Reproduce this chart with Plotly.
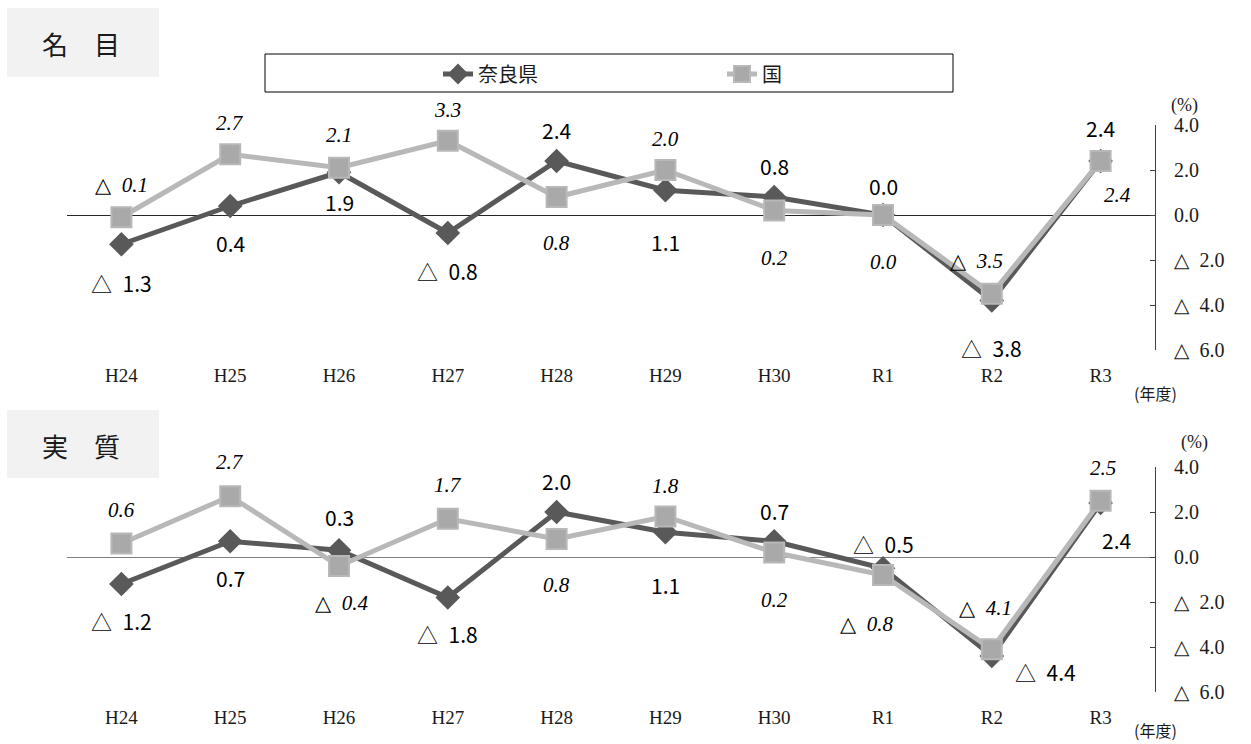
import plotly.graph_objects as go

W, H = 1251, 744

# ---------------- data ----------------
years = ["H24", "H25", "H26", "H27", "H28", "H29", "H30", "R1", "R2", "R3"]
nara_nominal = [-1.3, 0.4, 1.9, -0.8, 2.4, 1.1, 0.8, 0.0, -3.8, 2.4]
kuni_nominal = [-0.1, 2.7, 2.1, 3.3, 0.8, 2.0, 0.2, 0.0, -3.5, 2.4]
nara_real = [-1.2, 0.7, 0.3, -1.8, 2.0, 1.1, 0.7, -0.5, -4.4, 2.4]
kuni_real = [0.6, 2.7, -0.4, 1.7, 0.8, 1.8, 0.2, -0.8, -4.1, 2.5]
series_names = ["奈良県", "国"]
panel_titles = ["名　目", "実　質"]
y_tickvals = [4, 2, 0, -2, -4, -6]
y_ticktext = ["4.0", "2.0", "0.0", "△\u20022.0", "△\u20024.0", "△\u20026.0"]
unit_label = "(%)"
year_label = "(年度)"

# ---------------- label offsets (px; dx right, dy down) ----------------
nara_nom_dx = [0, 0, 0, 0, 0, 0, 0, 0, 0, 0]
nara_nom_dy = [39, 37, 30, 38, -31, 52, -31, -29, 47, -33]
kuni_nom_dx = [0, 0, 0, 0, 0, 0, 0, 0, -15, 17]
kuni_nom_dy = [-32, -31, -33, -31, 46, -31, 47, 47, -33, 34]
nara_real_dx = [0, 0, 0, 0, 0, 0, 0, 0, 54, 16]
nara_real_dy = [37, 37, -33, 36, -31, 53, -30, -24, 16, 37]
kuni_real_dx = [0, 0, 2, 0, 0, 0, 0, -17, -6, 2]
kuni_real_dy = [-34, -34, 37, -34, 46, -31, 47, 49, -41, -33]

NARA_C = "#595959"
KUNI_LINE = "#b8b8b8"
KUNI_MARK = "#a9a9a9"

SANS = "Liberation Sans Narrow, Noto Sans CJK JP, sans-serif"
SERIF = "Liberation Serif, DejaVu Serif, Noto Sans CJK JP, serif"
CJK = "Noto Sans CJK JP, sans-serif"


def px_x(x):
    return x / W


def px_y(y):
    return 1 - y / H


def fmt(v):
    return f"△\u2002{abs(v):.1f}" if v < 0 else f"{v:.1f}"


x_dom = [px_x(67), px_x(1155)]
panels = [
    dict(dom=[px_y(350), px_y(125)], nara=nara_nominal, kuni=kuni_nominal,
         ndx=nara_nom_dx, ndy=nara_nom_dy, kdx=kuni_nom_dx, kdy=kuni_nom_dy,
         box=(7, 8, 159, 77), unit=(1184, 106), yr=(1155, 393), zc="#262626"),
    dict(dom=[px_y(692), px_y(467)], nara=nara_real, kuni=kuni_real,
         ndx=nara_real_dx, ndy=nara_real_dy, kdx=kuni_real_dx, kdy=kuni_real_dy,
         box=(7, 410, 159, 478), unit=(1194, 442), yr=(1155, 730), zc="#7f7f7f"),
]

fig = go.Figure()
annotations = []
shapes = []


def paper_text(x, y, text, font):
    return dict(x=px_x(x), y=px_y(y), xref="paper", yref="paper", text=text,
                showarrow=False, xanchor="center", yanchor="middle", font=font)


for i, p in enumerate(panels):
    sfx = "" if i == 0 else str(i + 1)
    xa, ya = "x" + sfx, "y" + sfx
    fig.add_trace(go.Scatter(
        x=years, y=p["nara"], name=series_names[0], mode="lines+markers",
        line=dict(color=NARA_C, width=5),
        marker=dict(symbol="diamond", size=19, color=NARA_C),
        xaxis=xa, yaxis=ya, showlegend=(i == 0), legendrank=1))
    fig.add_trace(go.Scatter(
        x=years, y=p["kuni"], name=series_names[1], mode="lines+markers",
        line=dict(color=KUNI_LINE, width=5),
        marker=dict(symbol="square", size=20, color=KUNI_MARK,
                    line=dict(color=KUNI_LINE, width=2)),
        xaxis=xa, yaxis=ya, showlegend=(i == 0), legendrank=2))

    for j, yr in enumerate(years):
        annotations.append(dict(
            x=yr, y=p["nara"][j], xref=xa, yref=ya, text=fmt(p["nara"][j]),
            showarrow=False, xanchor="center", yanchor="middle",
            xshift=p["ndx"][j], yshift=-p["ndy"][j],
            font=dict(family=SANS, size=21, color="#000000")))
        annotations.append(dict(
            x=yr, y=p["kuni"][j], xref=xa, yref=ya, text=fmt(p["kuni"][j]),
            showarrow=False, xanchor="center", yanchor="middle",
            xshift=p["kdx"][j], yshift=-p["kdy"][j],
            font=dict(family=SERIF, size=21, color="#000000", style="italic")))

    # title box
    x0, y0, x1, y1 = p["box"]
    shapes.append(dict(type="rect", xref="paper", yref="paper",
                       x0=px_x(x0), x1=px_x(x1), y0=px_y(y1), y1=px_y(y0),
                       fillcolor="#f2f2f2", line=dict(width=0), layer="below"))
    annotations.append(paper_text((x0 + x1) / 2 - 2, (y0 + y1) / 2 + 1, panel_titles[i],
                                  dict(family=CJK, size=26, color="#1a1a1a")))
    annotations.append(paper_text(p["unit"][0], p["unit"][1], unit_label,
                                  dict(family=SERIF, size=18, color="#1a1a1a")))
    annotations.append(paper_text(p["yr"][0], p["yr"][1], year_label,
                                  dict(family=CJK, size=16, color="#1a1a1a")))

    fig.update_layout(**{
        "xaxis" + sfx: dict(domain=x_dom, anchor=ya, type="category",
                            range=[-0.5, len(years) - 0.5], showgrid=False,
                            showline=False, zeroline=False, ticks="",
                            ticklabelstandoff=12, automargin=False,
                            tickfont=dict(family=SERIF, size=19, color="#1a1a1a")),
        "yaxis" + sfx: dict(domain=p["dom"], anchor=xa, side="right",
                            range=[-6, 4], tickvals=y_tickvals, ticktext=y_ticktext,
                            showgrid=False, showline=True, linecolor="#404040",
                            linewidth=1, ticks="inside", ticklen=5,
                            tickcolor="#404040", zeroline=True,
                            zerolinecolor=p["zc"], zerolinewidth=1,
                            ticklabelstandoff=14, automargin=False,
                            tickfont=dict(family=SERIF, size=20, color="#1a1a1a")),
    })

# legend box
shapes.append(dict(type="rect", xref="paper", yref="paper",
                   x0=px_x(265), x1=px_x(953), y0=px_y(92), y1=px_y(54),
                   line=dict(color="#000000", width=1), fillcolor="rgba(0,0,0,0)"))

fig.update_layout(
    width=W, height=H,
    margin=dict(l=0, r=0, t=0, b=0, pad=0, autoexpand=False),
    paper_bgcolor="#ffffff", plot_bgcolor="#ffffff",
    shapes=shapes, annotations=annotations,
    legend=dict(orientation="h", x=px_x(438), y=px_y(74), xanchor="left",
                yanchor="middle", bgcolor="rgba(0,0,0,0)", borderwidth=0,
                entrywidth=239, entrywidthmode="pixels",
                font=dict(family=CJK, size=20, color="#1a1a1a")),
)

fig.write_html("out.html",
               config={"displayModeBar": False},
               post_script="document.body.style.margin='0';document.body.style.overflow='hidden';")
